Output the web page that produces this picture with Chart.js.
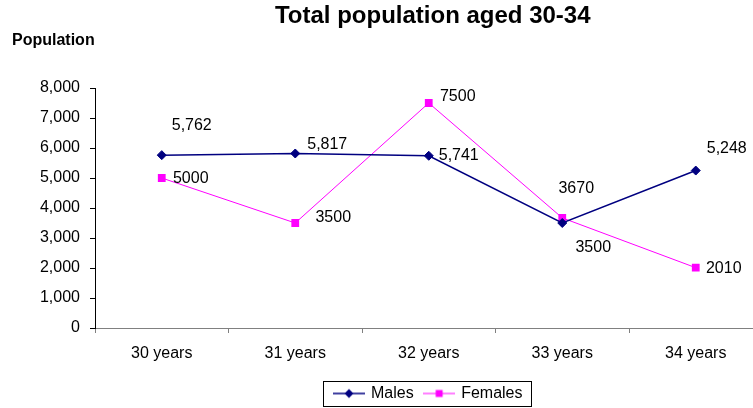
<!DOCTYPE html>
<html>
<head>
<meta charset="utf-8">
<script src="https://cdn.jsdelivr.net/npm/chart.js@4.4.1/dist/chart.umd.min.js"></script>
<style>
  html, body { margin: 0; padding: 0; background: #fff; overflow: hidden; }
  #wrap { width: 768px; height: 408px; }
</style>
</head>
<body>
<div id="wrap"><canvas id="popChart"></canvas></div>
<script>
const ageLabels = ["30 years", "31 years", "32 years", "33 years", "34 years"];
const males = [5762, 5817, 5741, 3500, 5248];
const females = [5000, 3500, 7500, 3670, 2010];
// which male labels are written with a thousands separator
const maleGrouped = [true, true, true, false, true];
const yMin = 0;
const yMax = 8000;
const yStep = 1000;

const FONT = '"Liberation Sans", Arial, Helvetica, sans-serif';
const NAVY = "#000080";
const MAGENTA = "#ff00ff";

// where each value label sits relative to its point (px)
const maleLabelPos = [[30, -30], [32, -9], [30, 0], [31, 25], [31, -22]];
const femaleLabelPos = [[29, 1], [38, -5], [29, -6], [14, -29], [28, 1]];

// small line + marker swatch used as legend point style
function legendSymbol(color, shape) {
  const c = document.createElement("canvas");
  c.width = 32;
  c.height = 12;
  const g = c.getContext("2d");
  g.strokeStyle = color;
  g.lineWidth = shape === "diamond" ? 1.5 : 1;
  g.beginPath();
  g.moveTo(0, 6);
  g.lineTo(32, 6);
  g.stroke();
  g.fillStyle = color;
  g.beginPath();
  if (shape === "diamond") {
    g.moveTo(16, 1.5);
    g.lineTo(20.5, 6);
    g.lineTo(16, 10.5);
    g.lineTo(11.5, 6);
    g.closePath();
  } else {
    g.rect(12.5, 2.5, 7, 7);
  }
  g.fill();
  return c;
}

const symbols = [legendSymbol(NAVY, "diamond"), legendSymbol(MAGENTA, "square")];

const valueLabels = {
  id: "valueLabels",
  afterDatasetsDraw(chart, args, opts) {
    const ctx = chart.ctx;
    ctx.save();
    ctx.font = "16px " + FONT;
    ctx.fillStyle = "#000";
    ctx.textAlign = "center";
    ctx.textBaseline = "middle";
    chart.data.datasets.forEach((ds, di) => {
      const meta = chart.getDatasetMeta(di);
      const grouped = opts.grouped[di];
      meta.data.forEach((pt, i) => {
        const v = ds.data[i];
        const text = grouped && grouped[i] ? v.toLocaleString("en-US") : String(v);
        const [dx, dy] = opts.offsets[di][i];
        ctx.fillText(text, pt.x + dx, pt.y + dy);
      });
    });
    ctx.restore();
  }
};

// axis caption at top left and the frame round the legend
const frame = {
  id: "frame",
  afterLayout(chart) {
    // title sits a little right of the plot centre
    const tb = chart.titleBlock;
    if (tb) {
      tb.left += 4;
      tb.right += 4;
    }
  },
  afterDraw(chart) {
    const ctx = chart.ctx;
    ctx.save();
    ctx.font = "bold 16px " + FONT;
    ctx.fillStyle = "#000";
    ctx.textBaseline = "middle";
    ctx.fillText("Population", 12, 41);

    const boxes = chart.legend.legendHitBoxes;
    if (boxes && boxes.length) {
      const last = boxes[boxes.length - 1];
      const l = Math.round(boxes[0].left - 12);
      const r = Math.round(last.left + last.width + 8);
      const t = Math.round(boxes[0].top - 5);
      const b = Math.round(boxes[0].top + boxes[0].height + 4);
      ctx.strokeStyle = "#000";
      ctx.lineWidth = 1;
      ctx.strokeRect(l + 0.5, t + 0.5, r - l, b - t);
    }
    ctx.restore();
  }
};

new Chart(document.getElementById("popChart"), {
  type: "line",
  data: {
    labels: ageLabels,
    datasets: [
      {
        label: "Males",
        data: males,
        borderColor: NAVY,
        backgroundColor: NAVY,
        borderWidth: 1.5,
        pointStyle: "rectRot",
        pointRadius: 4.5,
        pointBorderWidth: 1,
        tension: 0,
      },
      {
        label: "Females",
        data: females,
        borderColor: MAGENTA,
        backgroundColor: MAGENTA,
        borderWidth: 1,
        pointStyle: "rect",
        pointRadius: 5.5,
        pointBorderWidth: 0,
        tension: 0,
      },
    ],
  },
  options: {
    responsive: true,
    maintainAspectRatio: false,
    animation: false,
    layout: { padding: 0 },
    plugins: {
      title: {
        display: true,
        text: "Total population aged 30-34",
        fullSize: false,
        color: "#000",
        font: { family: FONT, size: 24, weight: "bold" },
        padding: { top: 2.4, bottom: 56.8 },
      },
      legend: {
        position: "bottom",
        fullSize: false,
        maxHeight: 34,
        labels: {
          usePointStyle: true,
          pointStyleWidth: 28,
          padding: 11.5,
          color: "#000",
          font: { family: FONT, size: 16 },
          generateLabels(chart) {
            const items = Chart.defaults.plugins.legend.labels.generateLabels(chart);
            items.forEach((it, i) => { it.pointStyle = symbols[i]; });
            return items;
          },
        },
      },
      tooltip: { enabled: false },
      valueLabels: {
        offsets: [maleLabelPos, femaleLabelPos],
        grouped: [maleGrouped, null],
      },
    },
    scales: {
      x: {
        offset: true,
        grid: { offset: true, drawOnChartArea: false, color: "#808080", tickLength: 5 },
        border: { color: "#808080" },
        ticks: { color: "#000", font: { family: FONT, size: 16 }, padding: 11 },
        afterFit(s) { s.height = 46; },
      },
      y: {
        min: yMin,
        max: yMax,
        grid: { drawOnChartArea: false, color: "#000", tickLength: 5 },
        border: { color: "#000" },
        ticks: {
          stepSize: yStep,
          color: "#000",
          font: { family: FONT, size: 16 },
          padding: 10,
          callback: (v) => v.toLocaleString("en-US"),
        },
        afterFit(s) { s.width = 95; },
      },
    },
  },
  plugins: [valueLabels, frame],
});
</script>
</body>
</html>
